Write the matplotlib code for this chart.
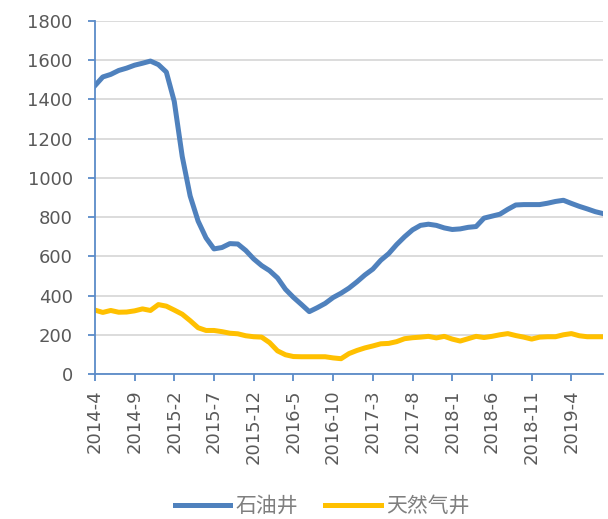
import matplotlib
matplotlib.use("Agg")
from matplotlib import pyplot as plt

plt.rcParams['font.family'] = ['DejaVu Sans', 'Noto Sans CJK SC']

# monthly points, 2014-4 .. 2019-8
oil = [1470, 1515, 1528, 1548, 1560, 1575, 1585, 1596, 1578, 1540,
       1390, 1110, 908, 780, 694, 638, 645, 665, 663, 630,
       587, 553, 527, 490, 432, 391, 355, 318, 338, 360,
       390, 412, 438, 470, 505, 535, 580, 614, 660, 700,
       735, 758, 764, 758, 745, 737, 740, 748, 752, 795,
       805, 815, 840, 862, 864, 864, 864, 871, 880, 886,
       870, 855, 842, 828, 818]
gas = [326, 314, 324, 315, 316, 322, 332, 324, 354, 346,
       326, 305, 272, 236, 222, 222, 216, 208, 205, 195,
       190, 188, 160, 118, 98, 89, 88, 88, 88, 88,
       82, 78, 104, 120, 133, 143, 154, 156, 165, 180,
       185, 188, 192, 184, 192, 178, 168, 180, 192, 186,
       192, 200, 206, 196, 188, 178, 188, 190, 190, 200,
       206, 195, 190, 190, 190]
tick_labels = ['2014-4', '2014-9', '2015-2', '2015-7', '2015-12', '2016-5',
               '2016-10', '2017-3', '2017-8', '2018-1', '2018-6', '2018-11',
               '2019-4']

blue = '#4F81BD'
yellow = '#FFC000'
grey = '#595959'

fig = plt.figure(figsize=(6.08, 5.19), dpi=100)
ax = fig.add_axes([0.156, 0.2794, 0.836, 0.680])

x = list(range(len(oil)))
ax.plot(x, oil, '-', color=blue, lw=3.6, label='石油井', solid_joinstyle='round')
ax.plot(x, gas, '-', color=yellow, lw=3.6, label='天然气井', solid_joinstyle='round')

ax.set_xlim(0, len(oil) - 1)
ax.set_ylim(0, 1800)
ax.set_yticks(range(0, 1801, 200))
ax.set_xticks(range(0, 61, 5))
ax.set_xticklabels(tick_labels, rotation=90)

ax.grid(axis='y', color='#D9D9D9', lw=1.3)
ax.set_axisbelow(True)
for s in ['top', 'right']:
    ax.spines[s].set_visible(False)
for s in ['left', 'bottom']:
    ax.spines[s].set_color('#5B8BC8')
    ax.spines[s].set_linewidth(1.3)

ax.tick_params(axis='y', colors='#5B8BC8', labelcolor=grey, labelsize=13,
               length=5, width=1.3, pad=11)
ax.tick_params(axis='x', colors='#5B8BC8', labelcolor=grey, labelsize=13,
               length=5, width=1.3, pad=6)

leg = fig.legend(loc='center', bbox_to_anchor=(0.53, 13 / 519), ncol=2,
                 frameon=False, fontsize=15, handlelength=2.65,
                 handletextpad=0.25, columnspacing=1.3, borderpad=0)
for t in leg.get_texts():
    t.set_color('#7F7F7F')
    t.set_family(['Noto Sans CJK SC', 'DejaVu Sans'])

plt.savefig('out.png', dpi=100)
